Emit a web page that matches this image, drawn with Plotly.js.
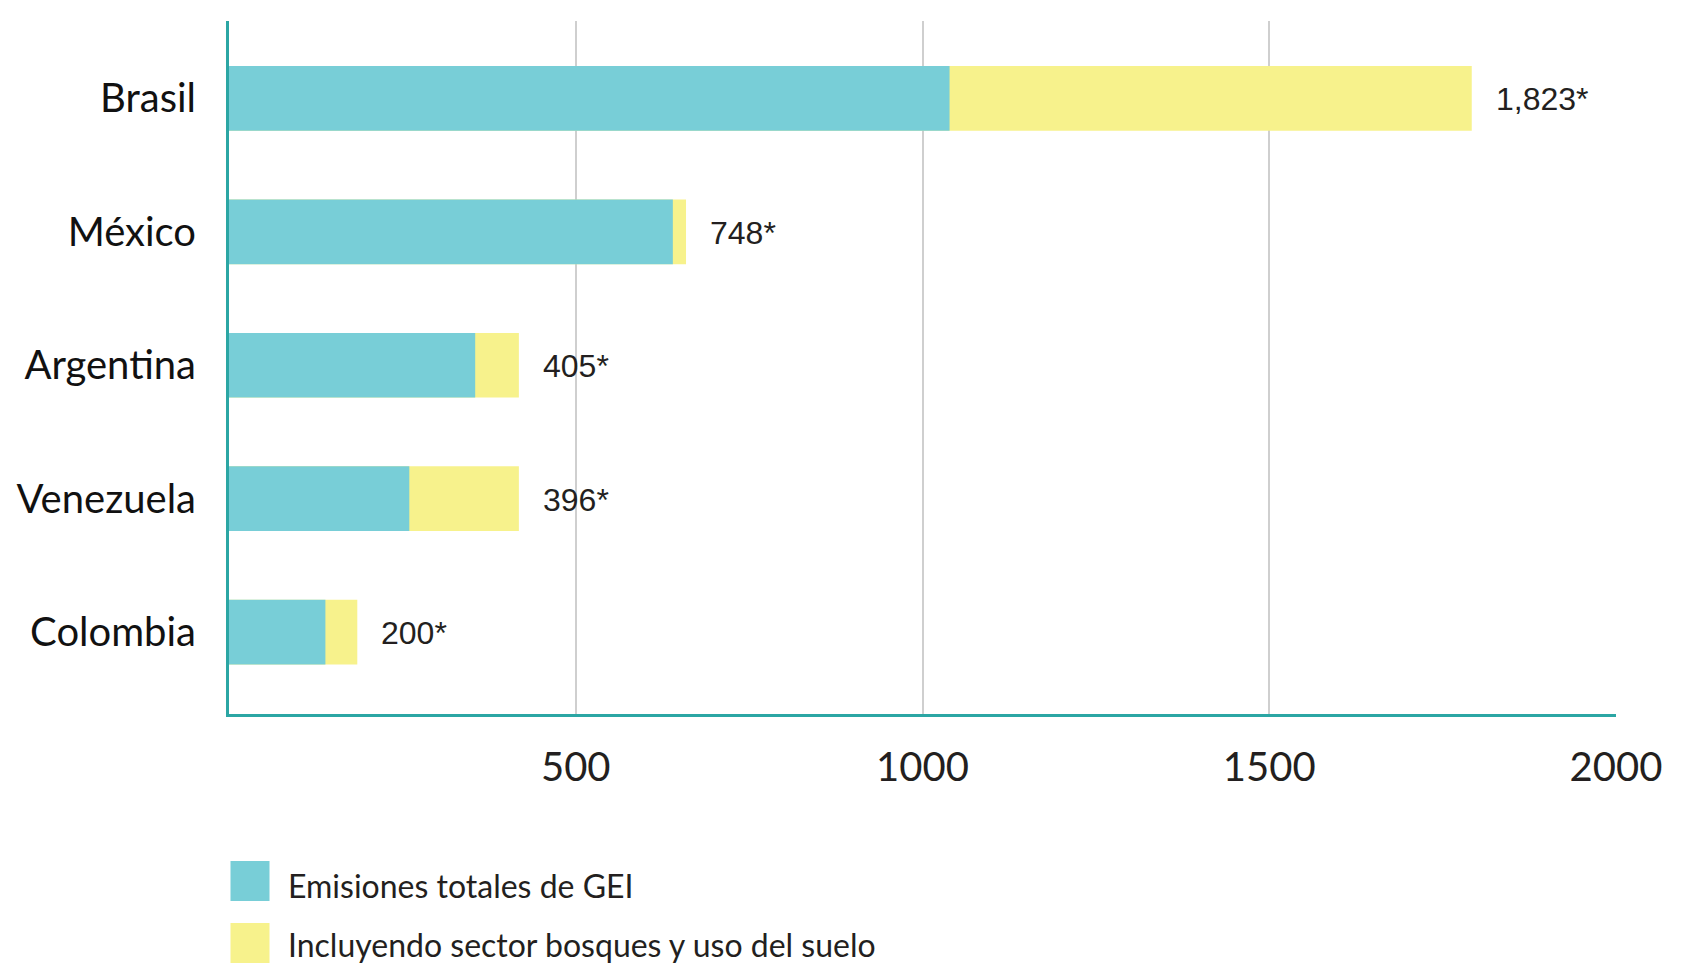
<!DOCTYPE html>
<html>
<head>
<meta charset="utf-8">
<script src="https://cdn.plot.ly/plotly-3.0.1.min.js"></script>
<style>
  html, body { margin: 0; padding: 0; background: #ffffff; }
  #chart { width: 1688px; height: 964px; }
</style>
</head>
<body>
<div id="chart"></div>
<script>
// ---- data ----
const countries = ['Brasil', 'México', 'Argentina', 'Venezuela', 'Colombia'];
const emisiones = [1039, 640, 355, 260, 139];
const incluyendo = [1792, 659, 418, 418, 185];
const etiquetas = ['1,823*', '748*', '405*', '396*', '200*'];
const seriesNames = ['Emisiones totales de GEI', 'Incluyendo sector bosques y uso del suelo'];
const xTickVals = [500, 1000, 1500, 2000];
const xTickText = ['500', '1000', '1500', '2000'];

// ---- style ----
const TEAL = '#78CED7';
const YELLOW = '#F7F28C';
const AXIS = '#2BA6A4';
const TEXT = '#231F20';

const W = 1688, H = 964;
const ML = 229, MR = 72, MT = 21, MB = 250;
const PW = W - ML - MR, PH = H - MT - MB;
const px2x = (x) => (x - ML) / PW;
const px2y = (y) => (H - MB - y) / PH;

const traces = [
  {
    type: 'bar', orientation: 'h',
    name: seriesNames[1],
    x: incluyendo, y: countries,
    width: 0.485,
    marker: { color: YELLOW, line: { width: 0 } },
    hoverinfo: 'skip', showlegend: false
  },
  {
    type: 'bar', orientation: 'h',
    name: seriesNames[0],
    x: emisiones, y: countries,
    width: 0.485,
    marker: { color: TEAL, line: { width: 0 } },
    hoverinfo: 'skip', showlegend: false
  }
];

const annotations = countries.map((c, i) => ({
  x: incluyendo[i], y: c, xref: 'x', yref: 'y',
  text: etiquetas[i], showarrow: false,
  xanchor: 'left', yanchor: 'middle', xshift: 22, yshift: -1,
  font: { family: '"Liberation Sans", Arial, sans-serif', size: 32, color: TEXT }
}));

// legend (custom, large swatches)
const legendRows = [
  { name: seriesNames[0], color: TEAL, top: 861, bottom: 901, textY: 886 },
  { name: seriesNames[1], color: YELLOW, top: 923, bottom: 963, textY: 944 }
];
const shapes = [];
legendRows.forEach(r => {
  shapes.push({
    type: 'rect', xref: 'paper', yref: 'paper',
    x0: px2x(230.5), x1: px2x(269.5), y0: px2y(r.bottom), y1: px2y(r.top),
    fillcolor: r.color, line: { width: 0 }, layer: 'above'
  });
  annotations.push({
    xref: 'paper', yref: 'paper', x: px2x(286), y: px2y(r.textY),
    text: r.name, showarrow: false, xanchor: 'left', yanchor: 'middle',
    font: { family: 'Lato, sans-serif', size: 32, color: TEXT }
  });
});

const layout = {
  width: W, height: H,
  margin: { l: ML, r: MR, t: MT, b: MB, pad: 0 },
  paper_bgcolor: '#ffffff', plot_bgcolor: '#ffffff',
  barmode: 'overlay',
  showlegend: false,
  font: { family: 'Lato, sans-serif', color: TEXT },
  xaxis: {
    range: [0, 2000],
    tickvals: xTickVals, ticktext: xTickText,
    showgrid: true, gridcolor: '#CFCFCF', gridwidth: 2,
    zeroline: false,
    showline: true, linecolor: AXIS, linewidth: 3,
    ticks: '', ticklabelstandoff: 16,
    tickfont: { family: 'Lato, sans-serif', size: 40, color: TEXT },
    layer: 'below traces', fixedrange: true
  },
  yaxis: {
    type: 'category',
    categoryorder: 'array', categoryarray: countries,
    range: [4.614, -0.58],
    showgrid: false, zeroline: false,
    showline: true, linecolor: AXIS, linewidth: 3,
    ticks: '', ticklabelstandoff: 22,
    tickfont: { family: 'Lato, sans-serif', size: 40, color: '#111111' },
    layer: 'below traces', fixedrange: true
  },
  shapes: shapes,
  annotations: annotations
};

Plotly.newPlot('chart', traces, layout, { displayModeBar: false, staticPlot: true });
</script>
</body>
</html>
